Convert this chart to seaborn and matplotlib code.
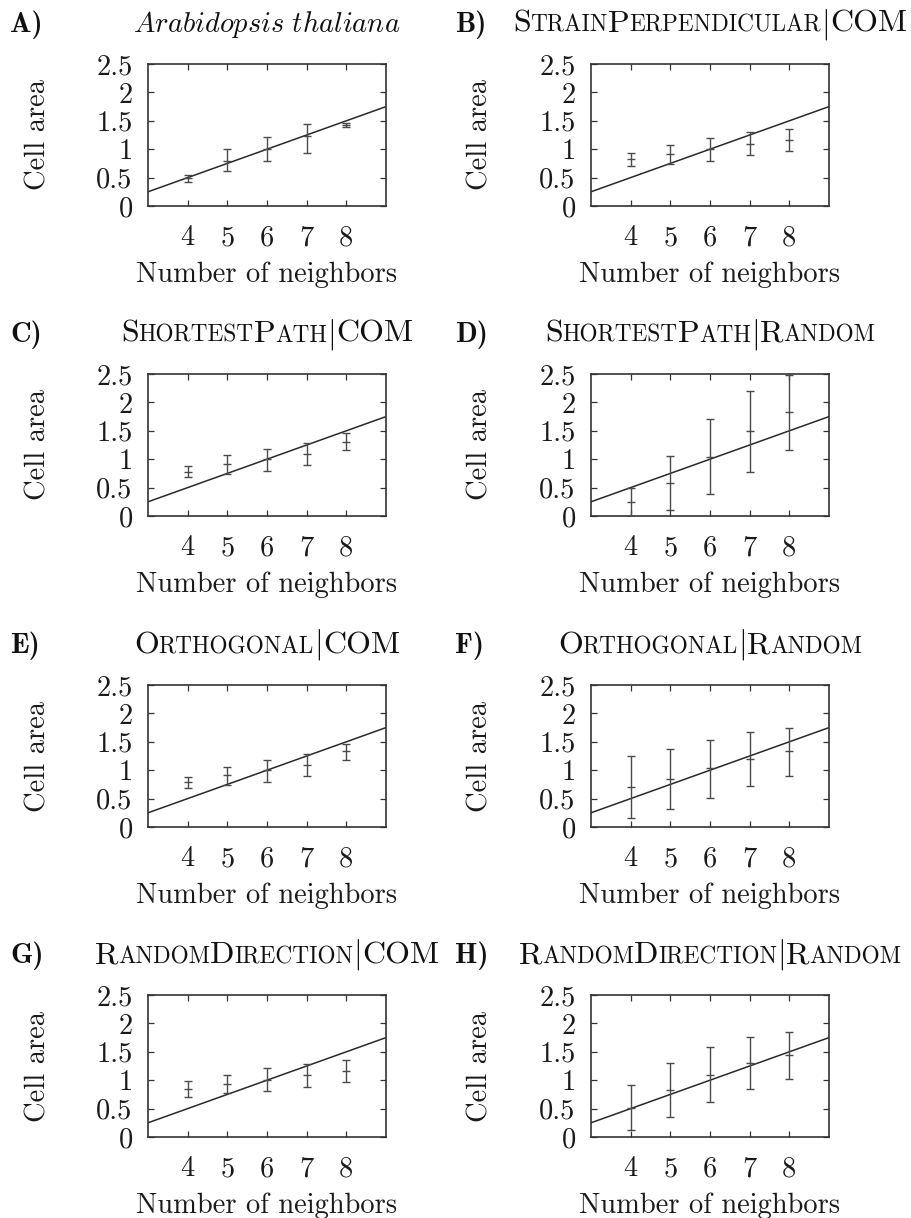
import matplotlib
matplotlib.use("Agg")
import matplotlib.pyplot as plt
import seaborn as sns
import numpy as np

# ---------------- data ----------------
neighbors = [4, 5, 6, 7, 8]
xticks = [4, 5, 6, 7, 8]
yticks = [0, 0.5, 1, 1.5, 2, 2.5]
ytick_labels = ["0", "0.5", "1", "1.5", "2", "2.5"]
law_x = [3, 9]            # reference line (Lewis's law) end points
law_y = [0.25, 1.75]

panel_letters = ["A)", "B)", "C)", "D)", "E)", "F)", "G)", "H)"]
panel_titles = ["Arabidopsis thaliana", "StrainPerpendicular|COM", "ShortestPath|COM",
                "ShortestPath|Random", "Orthogonal|COM", "Orthogonal|Random",
                "RandomDirection|COM", "RandomDirection|Random"]

mean_A = [0.49, 0.79, 1.00, 1.23, 1.43]
low_A = [0.43, 0.62, 0.80, 0.94, 1.39]
high_A = [0.55, 1.00, 1.22, 1.44, 1.47]

mean_B = [0.83, 0.915, 1.00, 1.09, 1.16]
low_B = [0.71, 0.745, 0.80, 0.89, 0.96]
high_B = [0.94, 1.07, 1.20, 1.30, 1.355]

mean_C = [0.78, 0.915, 1.00, 1.10, 1.31]
low_C = [0.68, 0.745, 0.80, 0.89, 1.16]
high_C = [0.875, 1.07, 1.185, 1.29, 1.46]

mean_D = [0.25, 0.58, 1.03, 1.49, 1.825]
low_D = [0.0, 0.105, 0.38, 0.78, 1.17]
high_D = [0.49, 1.05, 1.70, 2.20, 2.49]

mean_E = [0.785, 0.91, 1.00, 1.10, 1.33]
low_E = [0.69, 0.74, 0.80, 0.90, 1.185]
high_E = [0.875, 1.06, 1.185, 1.29, 1.46]

mean_F = [0.70, 0.84, 1.03, 1.20, 1.33]
low_F = [0.165, 0.31, 0.515, 0.73, 0.90]
high_F = [1.245, 1.37, 1.53, 1.665, 1.75]

mean_G = [0.85, 0.94, 1.01, 1.10, 1.16]
low_G = [0.71, 0.775, 0.815, 0.885, 0.96]
high_G = [0.985, 1.10, 1.21, 1.29, 1.35]

mean_H = [0.515, 0.83, 1.10, 1.30, 1.44]
low_H = [0.115, 0.35, 0.61, 0.845, 1.015]
high_H = [0.915, 1.31, 1.59, 1.76, 1.85]

means = [mean_A, mean_B, mean_C, mean_D, mean_E, mean_F, mean_G, mean_H]
lows = [low_A, low_B, low_C, low_D, low_E, low_F, low_G, low_H]
highs = [high_A, high_B, high_C, high_D, high_E, high_F, high_G, high_H]

# ---------------- style ----------------
sns.set_theme(style="ticks")
plt.rcParams["font.family"] = ["cmr10", "DejaVu Serif"]
plt.rcParams["mathtext.fontset"] = "cm"
plt.rcParams["axes.formatter.use_mathtext"] = True
plt.rcParams["axes.unicode_minus"] = False

W, H = 912, 1218
FS = 20.5          # axis text
TFS = 23.0         # small-caps titles
SC = 0.73          # small-caps ratio
fig = plt.figure(figsize=(W / 100, H / 100), dpi=100)
fig.patch.set_facecolor("white")
renderer = fig.canvas.get_renderer()

col_left = [148, 591]
col_label_x = [10, 455]
row_top = [64, 374, 685, 995]
ax_w, ax_h = 238, 142

LINE = "#2a2a2a"
ERR = "#4a4a4a"


def px_text(x, y, s, **kw):
    return fig.text(x / W, 1 - y / H, s, **kw)


def text_w(s, fs):
    t = px_text(0, 0, s, fontsize=fs, va="baseline", ha="left")
    w = t.get_window_extent(renderer).width
    t.remove()
    return w


def advance(s, fs, math=False):
    if math:
        return text_w(r"$\mathrm{I}" + s + r"\mathrm{I}$", fs) - text_w(r"$\mathrm{II}$", fs)
    return text_w("I" + s + "I", fs) - text_w("II", fs)


def smallcaps_title(text, xc, yb, size):
    runs = []
    for ch in text:
        if ch == "|":
            kind = "bar"
        elif ch.isupper():
            kind = "big"
        else:
            kind = "small"
        if runs and runs[-1][0] == kind and kind != "bar":
            runs[-1][1] += ch
        else:
            runs.append([kind, ch])
    pieces = []
    for kind, s in runs:
        if kind == "big":
            pieces.append((s, size, advance(s, size)))
        elif kind == "small":
            pieces.append((s.upper(), size * SC, advance(s.upper(), size * SC)))
        else:
            pieces.append((r"$|$", size, advance("|", size, math=True)))
    total = sum(p[2] for p in pieces)
    x = xc - total / 2
    for s, fs, w in pieces:
        px_text(x, yb, s, fontsize=fs, va="baseline", ha="left", color="#111111")
        x += w


for i in range(8):
    r, c = divmod(i, 2)
    left = col_left[c]
    top = row_top[r]
    ax = fig.add_axes([left / W, 1 - (top + ax_h) / H, ax_w / W, ax_h / H])

    sns.lineplot(x=law_x, y=law_y, ax=ax, color=LINE, linewidth=1.1)

    m = np.array(means[i])
    lo = np.array(lows[i])
    hi = np.array(highs[i])
    ax.errorbar(neighbors, m, yerr=[m - lo, hi - m], fmt="none", ecolor=ERR,
                elinewidth=1.0, capsize=2.6, capthick=1.0, zorder=3)
    ax.plot(neighbors, m, ls="none", marker="_", ms=5.5, mew=1.0, color=ERR, zorder=3)

    ax.set_xlim(3, 9)
    ax.set_ylim(0, 2.5)
    ax.set_xticks(xticks)
    ax.set_xticklabels([str(v) for v in xticks])
    ax.set_yticks(yticks)
    ax.set_yticklabels(ytick_labels)
    ax.tick_params(axis="both", direction="in", length=4.5, width=0.9,
                   top=True, right=True, labelsize=FS, color="#333333",
                   labelcolor="#1a1a1a")
    ax.tick_params(axis="y", pad=11.0)
    ax.tick_params(axis="x", pad=13.5)
    for sp in ax.spines.values():
        sp.set_visible(True)
        sp.set_linewidth(1.2)
        sp.set_color("#333333")

    ax.set_xlabel("Number of neighbors", fontsize=FS, va="baseline", color="#1a1a1a")
    ax.xaxis.set_label_coords(0.5, -(282 - 206) / ax_h)
    ax.set_ylabel("Cell area", fontsize=FS, rotation=90, rotation_mode="anchor",
                  ha="center", va="baseline", color="#1a1a1a")
    ax.yaxis.set_label_coords((45 - 148) / ax_w, 0.5)

    # panel letter
    px_text(col_label_x[c], top - 32, panel_letters[i], fontsize=FS,
            family="cmb10", va="baseline", ha="left", color="#111111")
    # title
    xc = left + ax_w / 2
    if i == 0:
        px_text(xc, top - 32, r"$\mathit{Arabidopsis\ thaliana}$", fontsize=FS,
                va="baseline", ha="center", color="#111111")
    else:
        smallcaps_title(panel_titles[i], xc, top - 32, TFS)

fig.savefig("out.png", dpi=100, facecolor="white")
